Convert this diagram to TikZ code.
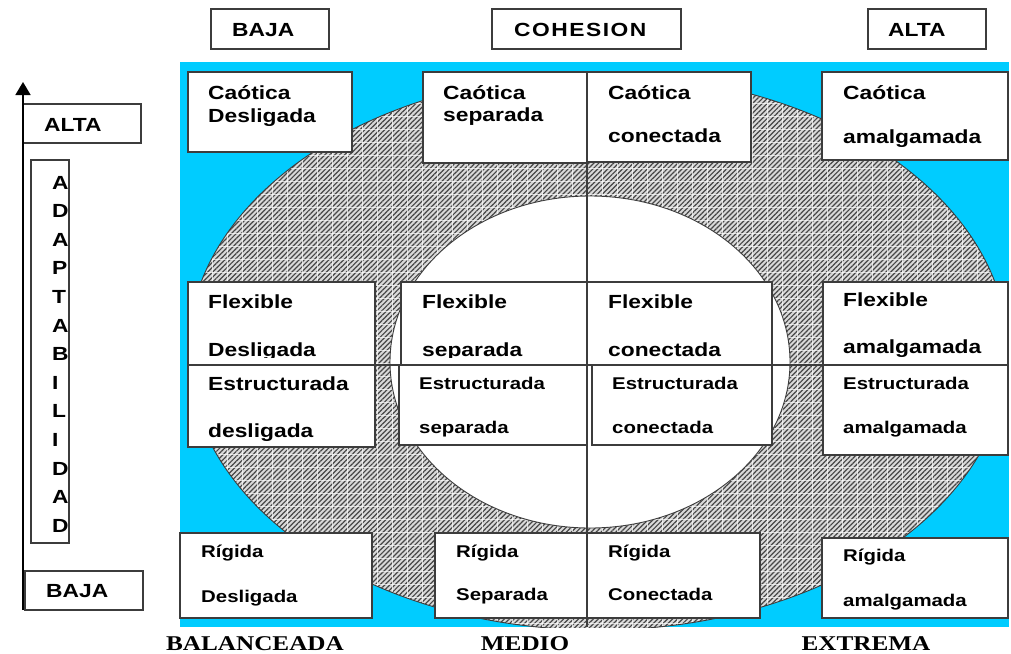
\documentclass[tikz,border=0pt]{standalone}
\usepackage{fontspec}
\usepackage{xcolor}
\usetikzlibrary{arrows.meta,patterns.meta}
\newfontfamily\arialb{Liberation Sans}[FakeStretch=1.2]
\newfontfamily\romanb{Liberation Serif}[FakeStretch=1.2]
\definecolor{cian}{RGB}{0,204,255}
\definecolor{borde}{RGB}{60,60,60}

\begin{document}
\begin{tikzpicture}[x=1pt,y=-1pt,
    caja/.style={draw=borde, line width=1.2pt, fill=white, rectangle, inner sep=0pt, outer sep=0pt, anchor=north west},
    txt/.style={anchor=base west, inner sep=0pt, font=\arialb\bfseries\fontsize{19}{19}\selectfont},
    txtp/.style={anchor=base west, inner sep=0pt, font=\arialb\bfseries\fontsize{17}{17}\selectfont},
    pie/.style={anchor=base, inner sep=0pt, font=\romanb\bfseries\fontsize{21}{21}\selectfont}]
                \useasboundingbox (0,0) rectangle (1011,653);
                % fondo y elipses
                \fill[cian] (180,62) rectangle (1009,627);
                \begin{scope}
                    \clip (180,62) rectangle (1009,627);
                    \begin{scope}
                        \clip (598,352) ellipse [x radius=410, y radius=278];
                        \fill[gray!30] (180,62) rectangle (1009,630);
                        \fill[pattern={Lines[angle=45,distance=3.5pt,line width=1.2pt]}, pattern color=gray!55!black] (180,62) rectangle (1009,630);
                        \foreach \i in {182,197,...,1010} \draw[white, line width=0.5pt, opacity=0.7] (\i,62) -- (\i,630);
                        \foreach \j in {64,77,...,630} \draw[white, line width=0.5pt, opacity=0.7] (180,\j) -- (1009,\j);
                    \end{scope}
                    \draw[borde, line width=0.9pt] (598,352) ellipse [x radius=410, y radius=278];
                \end{scope}
                \filldraw[fill=white, draw=borde, line width=0.9pt] (590,362) ellipse [x radius=200, y radius=166];

                % cabecera
                \node[caja, minimum width=118, minimum height=40] (bajac) at (211,9) {};
                \node[txt] (bajact) at (232,36) {BAJA};
                \node[caja, minimum width=189, minimum height=40] (cohesion) at (492,9) {};
                \node[txt] (cohesiont) at (514,36) {\addfontfeature{LetterSpace=8}COHESION};
                \node[caja, minimum width=118, minimum height=40] (altac) at (868,9) {};
                \node[txt] (altact) at (888,36) {ALTA};

                % eje de adaptabilidad
                \node[caja, minimum width=118, minimum height=39] (altaf) at (23,104) {};
                \node[txt] (altaft) at (44,131) {ALTA};
                \node[caja, minimum width=118, minimum height=39] (bajaf) at (25,571) {};
                \node[txt] (bajaft) at (46,597) {BAJA};
                \node[caja, minimum width=38, minimum height=383] (adapt) at (31,160) {};
                \foreach \l [count=\i from 0] in {A,D,A,P,T,A,B,I,L,I,D,A,D}
                    \node[txt] (adapt\i) at (52,{189+28.6*\i}) {\l};
                \coordinate (ejeabajo) at (23,610);
                \coordinate (ejearriba) at (23,82);
                \draw[line width=1.8pt, -{Triangle[length=13pt,width=15pt]}] (ejeabajo) -- (ejearriba);

                % caotica
                \node[caja, minimum width=164, minimum height=80] (cdes) at (188,72) {};
                \node[txt] (cdes1) at (208,99) {Caótica};
                \node[txt] (cdes2) at (208,122) {Desligada};
                \node[caja, minimum width=164, minimum height=91] (csep) at (423,72) {};
                \node[txt] (csep1) at (443,99) {Caótica};
                \node[txt] (csep2) at (443,121) {separada};
                \node[caja, minimum width=164, minimum height=90] (ccon) at (587,72) {};
                \node[txt] (ccon1) at (608,99) {Caótica};
                \node[txt] (ccon2) at (608,142) {conectada};
                \node[caja, minimum width=186, minimum height=88] (cama) at (822,72) {};
                \node[txt] (cama1) at (843,99) {Caótica};
                \node[txt] (cama2) at (843,143) {amalgamada};

                % flexible
                \node[caja, minimum width=187, minimum height=83] (fdes) at (188,282) {};
                \node[txt] (fdes1) at (208,308) {Flexible};
                \node[txt] (fdes2) at (208,356) {Desligada};
                \node[caja, minimum width=186, minimum height=83] (fsep) at (401,282) {};
                \node[txt] (fsep1) at (422,308) {Flexible};
                \node[txt] (fsep2) at (422,356) {separada};
                \node[caja, minimum width=185, minimum height=83] (fcon) at (587,282) {};
                \node[txt] (fcon1) at (608,308) {Flexible};
                \node[txt] (fcon2) at (608,356) {conectada};
                \node[caja, minimum width=185, minimum height=83] (fama) at (823,282) {};
                \node[txt] (fama1) at (843,306) {Flexible};
                \node[txt] (fama2) at (843,353) {amalgamada};
                \fill[white] (189,357.5) rectangle (374.4,364.4);
                \fill[white] (402,357.5) rectangle (771.4,364.4);

                % estructurada
                \node[caja, minimum width=187, minimum height=82] (edes) at (188,365) {};
                \node[txt] (edes1) at (208,390) {Estructurada};
                \node[txt] (edes2) at (208,437) {desligada};
                \node[caja, minimum width=188, minimum height=80] (esep) at (399,365) {};
                \node[txtp] (esep1) at (419,389) {Estructurada};
                \node[txtp] (esep2) at (419,433) {separada};
                \node[caja, minimum width=180, minimum height=80] (econ) at (592,365) {};
                \node[txtp] (econ1) at (612,389) {Estructurada};
                \node[txtp] (econ2) at (612,433) {conectada};
                \node[caja, minimum width=185, minimum height=90] (eama) at (823,365) {};
                \node[txtp] (eama1) at (843,389) {Estructurada};
                \node[txtp] (eama2) at (843,433) {amalgamada};

                % rigida
                \node[caja, minimum width=192, minimum height=85] (rdes) at (180,533) {};
                \node[txtp] (rdes1) at (201,557) {Rígida};
                \node[txtp] (rdes2) at (201,602) {Desligada};
                \node[caja, minimum width=152, minimum height=85] (rsep) at (435,533) {};
                \node[txtp] (rsep1) at (456,557) {Rígida};
                \node[txtp] (rsep2) at (456,600) {Separada};
                \node[caja, minimum width=173, minimum height=85] (rcon) at (587,533) {};
                \node[txtp] (rcon1) at (608,557) {Rígida};
                \node[txtp] (rcon2) at (608,600) {Conectada};
                \node[caja, minimum width=186, minimum height=80] (rama) at (822,538) {};
                \node[txtp] (rama1) at (843,561) {Rígida};
                \node[txtp] (rama2) at (843,606) {amalgamada};

                % ejes centrales
                \draw[borde, line width=1.2pt] (587,72) -- (587,627);
                \draw[borde, line width=1.2pt] (188,365) -- (1008,365);

                % pie
                \node[pie] (balanceada) at (255,650) {BALANCEADA};
                \node[pie] (medio) at (525,650) {MEDIO};
                \node[pie] (extrema) at (866,650) {EXTREMA};
            \end{tikzpicture}
\end{document}
